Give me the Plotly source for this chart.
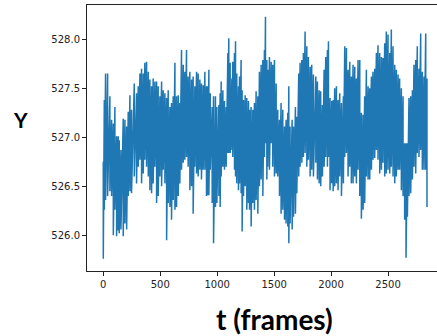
import plotly.graph_objects as go

# Frame positions of sampled columns and the upper / lower extent of the trace there
col_t = [0, 9, 20, 38, 58, 73, 88, 102, 117, 131, 140, 155, 175, 190, 205, 219, 234, 248, 272, 292,
         307, 322, 336, 351, 365, 380, 395, 409, 424, 438, 453, 468, 482, 497, 512, 526, 541, 556, 570, 585,
         599, 614, 629, 643, 658, 672, 687, 702, 716, 731, 745, 760, 775, 789, 804, 819, 833, 848, 862, 877,
         892, 906,
         918, 927, 939, 956, 968, 985, 997, 1015, 1026, 1035, 1050, 1064, 1079, 1094, 1102, 1114, 1129, 1137, 1152, 1161,
         1172, 1187, 1196, 1210, 1219, 1231, 1246, 1260, 1275, 1284, 1298, 1313, 1327, 1342, 1357, 1371, 1386, 1401, 1415, 1424,
         1436, 1444, 1459, 1474, 1488, 1503, 1518, 1532, 1547, 1561, 1576, 1591, 1605, 1620, 1629, 1640, 1658, 1670, 1687, 1699,
         1716, 1728, 1743, 1757, 1772, 1787, 1801, 1816, 1830, 1845,
         1866, 1880, 1895, 1909, 1924, 1939, 1953, 1968, 1977, 1991, 2006, 2018, 2032, 2047, 2061, 2076, 2091, 2108, 2120, 2135,
         2149, 2164, 2178, 2193, 2208, 2222, 2237, 2252, 2266, 2281, 2295, 2310, 2325, 2339, 2354, 2368, 2383, 2398, 2412, 2427,
         2442, 2456, 2471, 2485, 2500, 2515, 2529, 2544, 2559, 2573, 2588, 2602, 2617, 2632, 2646, 2658, 2670, 2684, 2699, 2714,
         2728, 2743, 2757, 2772, 2787, 2801, 2816, 2831, 2842]

col_high = [526.75, 527.38, 527.65, 527.65, 527.42, 527.18, 527.14, 527.31, 527.01, 527.01,
            526.97, 526.87, 527.19, 527.18, 527.11, 527.26, 527.43, 527.28, 527.55, 527.45,
            527.52, 527.65, 527.70, 527.65, 527.76, 527.77, 527.67, 527.59, 527.52, 527.60,
            527.57, 527.57, 527.52, 527.42, 527.57, 527.48, 527.45, 527.40, 527.48, 527.31,
            527.35, 527.42, 527.76, 527.42, 527.43, 527.35, 527.89, 527.74, 527.67, 527.89,
            527.62, 527.67, 527.59, 527.62, 527.52, 527.67, 527.65, 527.59, 527.55, 527.53,
            527.67, 527.52,
            527.52, 527.69, 527.45, 527.31, 527.42, 527.42, 527.31, 527.33, 527.45, 527.57,
            527.48, 527.37, 527.31, 527.86, 528.01, 527.76, 527.60, 527.77, 527.86, 527.98,
            527.65, 527.52, 527.62, 527.79, 527.48, 527.38, 527.43, 527.40, 527.37, 527.28,
            527.31, 527.28, 527.35, 527.47, 527.42, 527.67, 527.74, 527.79, 527.89, 528.23,
            527.79, 527.69, 527.82, 527.77, 527.74, 527.79, 527.55, 527.28, 527.18, 527.35,
            527.28, 527.11, 527.18, 527.25, 527.52, 527.11, 527.18, 527.11, 527.31, 527.21,
            527.65, 527.76, 527.79, 527.86, 528.08, 527.93, 527.82, 527.72, 527.74, 527.64,
            527.62, 527.57, 527.48, 527.47, 527.33, 527.69, 527.82, 527.89, 527.98, 527.40,
            527.37, 527.38, 527.50, 527.52, 527.38, 527.45, 527.35, 527.42, 527.93, 527.91,
            527.69, 527.77, 527.62, 527.74, 527.72, 527.60, 527.79, 527.79, 527.25, 527.23,
            527.42, 527.69, 527.52, 527.50, 527.62, 527.67, 527.70, 527.86, 527.94, 527.86,
            527.82, 527.81, 527.96, 528.08, 528.05, 527.86, 528.10, 527.93, 527.74, 527.69,
            527.64, 527.60, 527.50, 527.42, 526.94, 526.94, 526.94, 527.40, 527.42, 527.48,
            527.74, 527.79, 527.93, 527.70, 528.06, 527.67, 527.62, 528.06, 527.60]

col_low = [525.76, 526.26, 526.36, 526.40, 526.45, 526.40, 526.00, 526.26, 525.99, 526.05,
           526.02, 526.06, 525.99, 526.12, 526.06, 526.40, 526.45, 526.43, 526.60, 526.53,
           526.70, 526.77, 526.53, 526.63, 526.77, 526.70, 526.60, 526.46, 526.43, 526.53,
           526.70, 526.33, 526.40, 526.60, 526.50, 526.67, 526.53, 525.95, 526.33, 526.29,
           526.16, 526.36, 526.26, 526.29, 526.40, 526.53, 526.67, 526.74, 526.77, 526.80,
           526.70, 526.46, 526.50, 526.22, 526.70, 526.63, 526.60, 526.67, 526.57, 526.67,
           526.67, 526.40,
           526.41, 526.41, 526.67, 526.33, 525.92, 526.29, 526.33, 526.40, 526.29, 526.60,
           526.70, 526.67, 526.70, 526.84, 526.84, 526.84, 526.87, 526.80, 526.67, 526.60,
           526.53, 526.46, 526.53, 526.43, 526.04, 526.40, 526.50, 526.26, 526.33, 526.26,
           526.09, 526.33, 526.26, 526.36, 526.22, 526.50, 526.57, 526.40, 526.80, 526.94,
           526.57, 526.70, 526.67, 526.94, 526.70, 526.60, 526.63, 526.60, 526.40, 526.22,
           526.26, 526.16, 526.12, 526.09, 525.92, 526.12, 526.06, 526.19, 526.22, 526.43,
           526.60, 526.70, 526.74, 526.80, 526.84, 526.70, 526.77, 526.60, 526.67, 526.60,
           526.74, 526.57, 526.53, 526.50, 526.60, 526.70, 526.80, 526.70, 526.80, 526.46,
           526.53, 526.45, 526.50, 526.53, 526.46, 526.60, 526.40, 526.53, 526.80, 526.84,
           526.60, 526.70, 526.53, 526.53, 526.60, 526.53, 526.67, 526.40, 526.17, 526.26,
           526.33, 526.60, 526.57, 526.57, 526.67, 526.77, 526.79, 526.87, 526.77, 526.63,
           526.67, 526.74, 526.60, 526.63, 526.67, 526.63, 526.70, 526.60, 526.53, 526.60,
           526.67, 526.67, 526.46, 526.40, 526.16, 525.77, 526.19, 526.40, 526.43, 526.57,
           526.70, 526.63, 526.84, 526.80, 526.87, 526.67, 526.67, 526.67, 526.29]

x_ticks = [0, 500, 1000, 1500, 2000, 2500]
y_ticks = [526.0, 526.5, 527.0, 527.5, 528.0]

# Build the trace: each column drawn from its high to its low value
xs, ys = [], []
for t, hi, lo in zip(col_t, col_high, col_low):
    xs += [t, t]
    ys += [hi, lo]

fig = go.Figure()
fig.add_trace(go.Scatter(x=xs, y=ys, mode="lines",
                         line=dict(color="#1f77b4", width=1.5), hoverinfo="skip"))

tickfont = dict(family="DejaVu Sans", size=10, color="#222222")
fig.update_layout(
    width=437, height=336,
    margin=dict(l=87, r=0, t=5, b=65),
    paper_bgcolor="white", plot_bgcolor="white",
    showlegend=False,
    xaxis=dict(range=[-143, 2930], tickvals=x_ticks, ticktext=[str(v) for v in x_ticks],
               showgrid=False, zeroline=False, showline=True, linecolor="#222222", linewidth=1,
               mirror=True, ticks="outside", ticklen=4, tickwidth=1, tickcolor="#222222",
               tickfont=tickfont),
    yaxis=dict(range=[525.636, 528.35], tickvals=y_ticks, ticktext=[f"{v:.1f}" for v in y_ticks],
               showgrid=False, zeroline=False, showline=True, linecolor="#222222", linewidth=1,
               ticks="outside", ticklen=4, tickwidth=1, tickcolor="#222222",
               tickfont=tickfont),
    annotations=[
        dict(text="<b>Y</b>", xref="paper", yref="paper", x=-0.1886, y=0.568,
             xanchor="center", yanchor="middle", showarrow=False,
             font=dict(family="Lato", size=21, color="black")),
        dict(text="<b>t (frames)</b>", xref="paper", yref="paper", x=0.537, y=-0.1786,
             xanchor="center", yanchor="middle", showarrow=False,
             font=dict(family="Lato", size=28, color="black")),
    ],
)

fig.write_html("out.html")
